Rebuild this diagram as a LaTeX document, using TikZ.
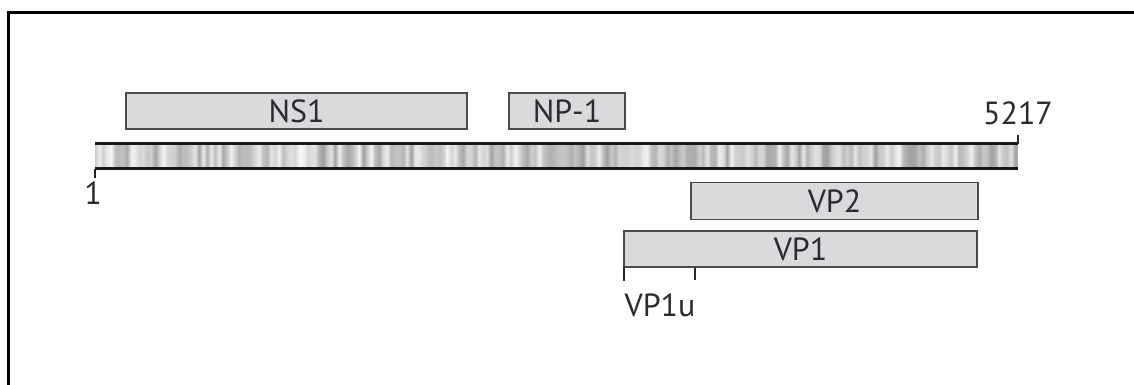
\documentclass[tikz,border=0pt]{standalone}
\usepackage{fontspec}
\setmainfont{PT Sans}
\definecolor{boxfill}{HTML}{D9DADB}
\definecolor{boxline}{HTML}{4A4A4A}
\definecolor{ink}{HTML}{2A2A30}
\tikzset{
  gene/.style={draw=boxline, line width=1.3pt, fill=boxfill, inner sep=0pt,
               text=ink, font=\fontsize{32}{32}\selectfont, anchor=center},
  lbl/.style={text=ink, font=\fontsize{32}{32}\selectfont, inner sep=0pt},
  rail/.style={line width=3pt, black!90},
  tick/.style={line width=1.3pt, black!85},
  frame/.style={line width=3pt, black}
}
\begin{document}
\begin{tikzpicture}[x=1pt,y=-1pt]
\useasboundingbox (0,0) rectangle (1134,385);
% outer frame (top and left edges)
\draw[frame] (8.5,385) -- (8.5,12.5) -- (1134,12.5);

% genome bar: softly banded gray body
\pgfmathsetseed{4217}
\pgfmathsetmacro{\prev}{0.8}
\xdef\prev{\prev}
\foreach \i in {0,...,230}{
  \pgfmathsetmacro{\g}{0.62+0.34*rnd}
  \definecolor{stripeA}{gray}{\prev}
  \definecolor{stripeB}{gray}{\g}
  \shade[left color=stripeA, right color=stripeB, shading angle=90]
    (95+4*\i,145) rectangle (95+4*\i+4.3,167);
  \xdef\prev{\g}
}
\coordinate (barTL) at (95,143.5);
\coordinate (barTR) at (1018,143.5);
\coordinate (barBL) at (95,168.5);
\coordinate (barBR) at (1018,168.5);
\fill[white] (1018,140) rectangle (1030,172);
\draw[rail] (barTL) -- (barTR);
\draw[rail] (barBL) -- (barBR);

% end ticks and coordinates
\coordinate (tickL) at (95,178);
\coordinate (tickR) at (1018,135);
\draw[tick] (barBL) -- (tickL);
\draw[tick] (barTR) -- (tickR);
\node[lbl] (start) at (93,193) {1};
\node[lbl] (stop) at (1018,113) {5217};

% open reading frames
\node[gene, minimum width=341pt, minimum height=36pt] (ns1) at (296.5,111) {NS1};
\node[gene, minimum width=116pt, minimum height=36pt] (np1) at (567,111) {NP-1};
\node[gene, minimum width=287pt, minimum height=37pt] (vp2) at (834.5,201) {VP2};
\node[gene, minimum width=353pt, minimum height=36pt] (vp1) at (800.5,249) {VP1};

% VP1 unique region
\coordinate (uA) at (624,267);
\coordinate (uA2) at (624,281);
\coordinate (uB) at (695,268);
\coordinate (uB2) at (695,280);
\draw[tick] (uA) -- (uA2);
\draw[tick] (uB) -- (uB2);
\node[lbl] (vp1u) at (660,305) {VP1u};
\end{tikzpicture}
\end{document}
